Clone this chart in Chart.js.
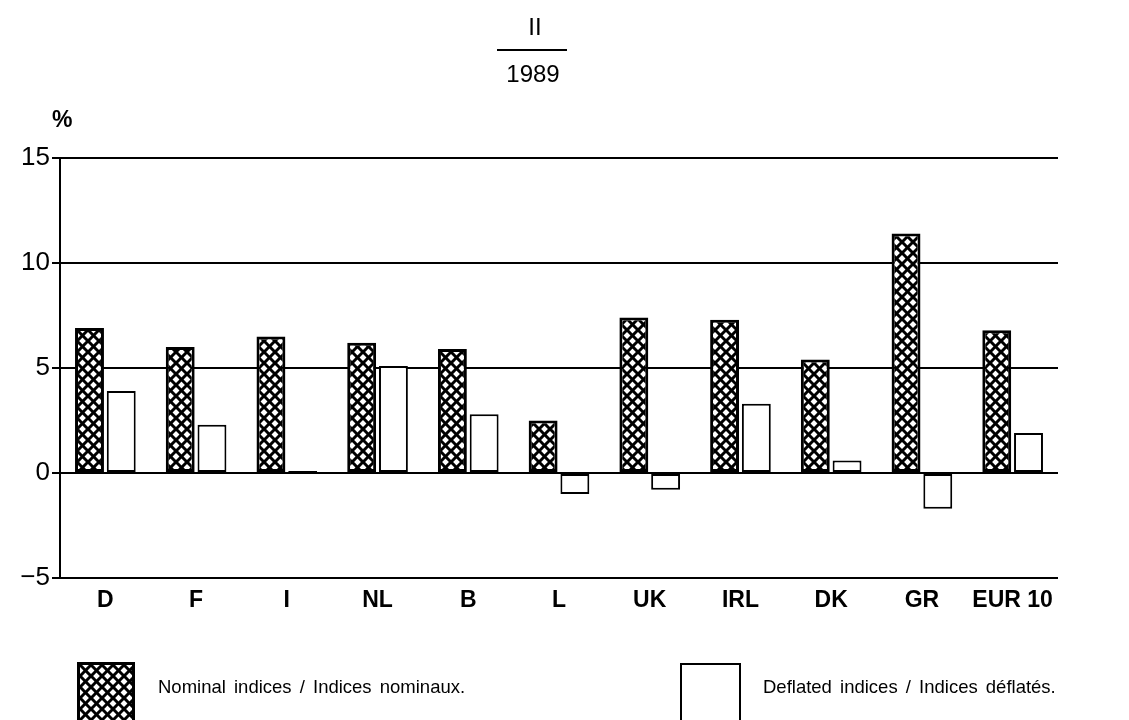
<!DOCTYPE html>
<html>
<head>
<meta charset="utf-8">
<script src="https://cdn.jsdelivr.net/npm/chart.js@4/dist/chart.umd.min.js"></script>
<style>
  html, body { margin: 0; padding: 0; background: #fff; }
  body { width: 1129px; height: 720px; overflow: hidden; position: relative; font-family: "Liberation Sans", Arial, sans-serif; color: #000; }
  #wrap { position: absolute; left: 0; top: 0; width: 1129px; height: 720px; }
  .t { position: absolute; white-space: nowrap; }
  #t1 { left: 535px; top: 13px; transform: translateX(-50%); font-size: 24px; }
  #rule { position: absolute; left: 497px; top: 49px; width: 70px; height: 0; border-top: 2px solid #000; }
  #t2 { left: 533px; top: 60px; transform: translateX(-50%); font-size: 24px; }
  #pct { left: 52px; top: 106px; font-size: 23px; font-weight: bold; }
  .sw { position: absolute; border: 2px solid #000; box-sizing: border-box; }
  #sw1 { left: 77px; top: 662px; width: 58px; height: 80px; border-width: 3px; }
  #sw2 { left: 680px; top: 663px; width: 61px; height: 80px; background: #fff; }
  .lt { position: absolute; top: 676px; font-size: 18.5px; word-spacing: 3px; }
  #lt1 { left: 158px; }
  #lt2 { left: 763px; }
</style>
</head>
<body>
<div id="wrap"><canvas id="c" width="1129" height="720"></canvas></div>
<div class="t" id="t1">II</div>
<div id="rule"></div>
<div class="t" id="t2">1989</div>
<div class="t" id="pct">%</div>
<div class="sw" id="sw1"></div>
<div class="lt" id="lt1">Nominal indices / Indices nominaux.</div>
<div class="sw" id="sw2"></div>
<div class="lt" id="lt2">Deflated indices / Indices déflatés.</div>
<script>
const categories = ['D', 'F', 'I', 'NL', 'B', 'L', 'UK', 'IRL', 'DK', 'GR', 'EUR 10'];
const nominal  = [6.9, 6.0, 6.5, 6.2, 5.9, 2.5, 7.4, 7.3, 5.4, 11.4, 6.8];
const deflated = [3.9, 2.3, 0.1, 5.1, 2.8, -1.0, -0.8, 3.3, 0.6, -1.7, 1.9];
const yTicks = [-5, 0, 5, 10, 15];
const seriesNames = ['Nominal indices / Indices nominaux.', 'Deflated indices / Indices déflatés.'];

function makeHatch() {
  const s = 11;
  const p = document.createElement('canvas');
  p.width = s; p.height = s;
  const g = p.getContext('2d');
  g.fillStyle = '#fff';
  g.fillRect(0, 0, s, s);
  g.strokeStyle = '#000';
  g.lineWidth = 3;
  for (const o of [-s, 0, s]) {
    g.beginPath(); g.moveTo(o, 0); g.lineTo(o + s, s); g.stroke();
    g.beginPath(); g.moveTo(o, s); g.lineTo(o + s, 0); g.stroke();
  }
  return p;
}
const hatchCanvas = makeHatch();
const ctx = document.getElementById('c').getContext('2d');
const hatch = ctx.createPattern(hatchCanvas, 'repeat');
document.getElementById('sw1').style.background = 'url(' + hatchCanvas.toDataURL() + ') repeat';

new Chart(ctx, {
  type: 'bar',
  data: {
    labels: categories,
    datasets: [
      { label: seriesNames[0], data: nominal, backgroundColor: hatch, borderColor: '#000', borderWidth: 3, borderSkipped: false,
        categoryPercentage: 0.7, barPercentage: 0.91 },
      { label: seriesNames[1], data: deflated, backgroundColor: '#fff', borderColor: '#000', borderWidth: 2, borderSkipped: false,
        categoryPercentage: 0.7, barPercentage: 0.91 }
    ]
  },
  options: {
    responsive: false,
    animation: false,
    devicePixelRatio: 1,
    layout: { padding: { left: 0, right: 71, top: 158, bottom: 102 } },
    plugins: { legend: { display: false }, title: { display: false }, tooltip: { enabled: false } },
    scales: {
      x: {
        type: 'category',
        grid: { display: false, drawTicks: false },
        border: { display: false },
        ticks: { color: '#000', font: { family: 'Liberation Sans', size: 23, weight: 'bold' }, padding: 9, maxRotation: 0, autoSkip: false },
        afterFit: s => { s.height = 40; }
      },
      y: {
        min: -5, max: 15,
        afterBuildTicks: s => { s.ticks = yTicks.map(v => ({ value: v })); },
        grid: { color: '#000', lineWidth: 2, drawTicks: true, tickLength: 8 },
        border: { display: true, color: '#000', width: 2 },
        ticks: { color: '#000', font: { family: 'Liberation Sans', size: 26 }, padding: 2,
                 callback: v => (v < 0 ? '\u2212' + Math.abs(v) : String(v)) },
        afterFit: s => { s.width = 60; }
      }
    }
  }
});
</script>
</body>
</html>
